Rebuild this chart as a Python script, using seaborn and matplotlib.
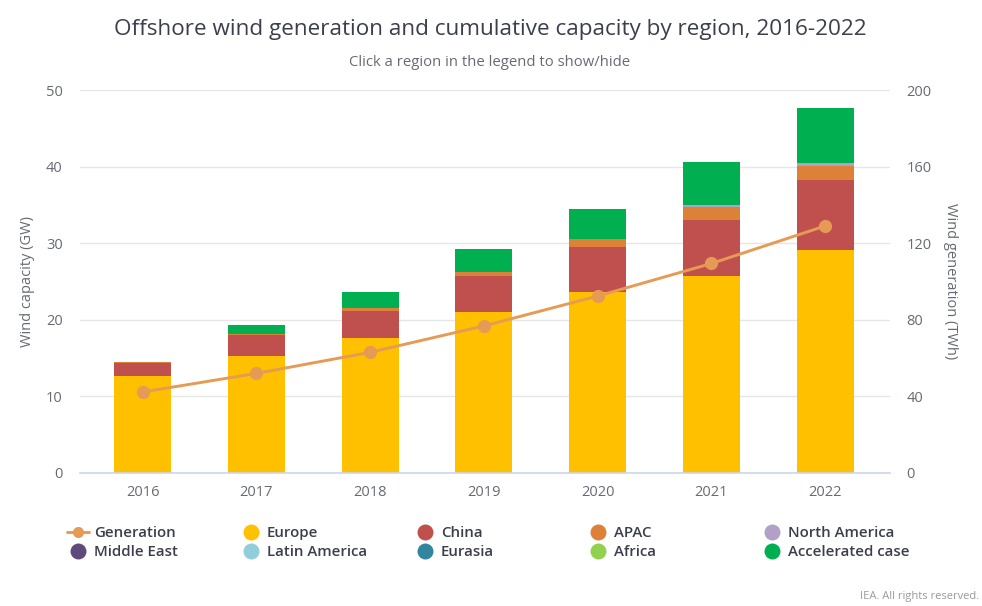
import matplotlib
matplotlib.use("Agg")
import matplotlib.pyplot as plt
from matplotlib.lines import Line2D
import numpy as np
import pandas as pd
import seaborn as sns

years = ["2016", "2017", "2018", "2019", "2020", "2021", "2022"]
europe = [12.65, 15.3, 17.6, 21.0, 23.6, 25.7, 29.1]
china = [1.65, 2.7, 3.5, 4.7, 5.9, 7.3, 9.15]
apac = [0.15, 0.1, 0.5, 0.5, 1.0, 1.7, 1.85]
north_america = [0.0, 0.0, 0.0, 0.03, 0.03, 0.3, 0.4]
middle_east = [0, 0, 0, 0, 0, 0, 0]
latin_america = [0, 0, 0, 0, 0, 0, 0]
eurasia = [0, 0, 0, 0, 0, 0, 0]
africa = [0, 0, 0, 0, 0, 0, 0]
accelerated = [0.0, 1.2, 2.0, 3.07, 3.97, 5.6, 7.1]
generation = [42.3, 52, 63, 76.8, 92.4, 109.4, 129]

series = [
    ("Europe", europe, "#FFC000"),
    ("China", china, "#C0504D"),
    ("APAC", apac, "#DD8038"),
    ("North America", north_america, "#B1A0C7"),
    ("Middle East", middle_east, "#604A7B"),
    ("Latin America", latin_america, "#92CDDC"),
    ("Eurasia", eurasia, "#31859C"),
    ("Africa", africa, "#92D050"),
    ("Accelerated case", accelerated, "#00B050"),
]
gen_color = "#E69B55"
text_dark = "#3a3f4b"
text_grey = "#666b73"

sns.set_theme(style="white")
plt.rcParams["font.family"] = ["Open Sans", "DejaVu Sans"]

fig = plt.figure(figsize=(9.82, 6.06), dpi=100, facecolor="white")
W, H = 982, 606
ax = fig.add_axes([80 / W, 1 - 473 / H, 810 / W, 383 / H])

bottom = np.zeros(len(years))
for name, vals, col in series:
    df = pd.DataFrame({"year": years, "v": vals})
    sns.barplot(data=df, x="year", y="v", ax=ax, color=col, saturation=1,
                width=0.5, bottom=bottom, linewidth=0, errorbar=None, zorder=2)
    bottom = bottom + np.array(vals)

ax.set_xlim(-0.55, 6.57)
ax.set_ylim(0, 50)
ax.set_yticks([0, 10, 20, 30, 40, 50])
ax.grid(axis="y", color="#e6e6e6", linewidth=1.0, zorder=0)
ax.set_axisbelow(True)
for s in ["top", "left", "right"]:
    ax.spines[s].set_visible(False)
ax.spines["bottom"].set_color("#ccd6eb")
ax.spines["bottom"].set_linewidth(1.2)
ax.tick_params(axis="y", length=0, labelsize=10.5, labelcolor=text_grey, pad=12.5)
ax.tick_params(axis="x", length=0, labelsize=10.5, labelcolor=text_grey, pad=8.8)
ax.set_xlabel("")
ax.set_ylabel("Wind capacity (GW)", fontsize=10.5, color=text_grey, labelpad=7.5)

ax2 = ax.twinx()
ax2.set_position(ax.get_position())
sns.lineplot(x=np.arange(len(years)), y=generation, ax=ax2, color=gen_color,
             linewidth=2.1, marker="o", markersize=9.5, markeredgewidth=0,
             errorbar=None, zorder=5)
ax2.set_ylim(0, 200)
ax2.set_yticks([0, 40, 80, 120, 160, 200])
ax2.grid(False)
for s in ax2.spines.values():
    s.set_visible(False)
ax2.tick_params(axis="y", length=0, labelsize=10.5, labelcolor=text_grey, pad=12)
ax2.set_ylabel("Wind generation (TWh)", fontsize=10.5, color=text_grey,
               rotation=270, labelpad=19)

fig.text(490 / W, 1 - 29.5 / H, "Offshore wind generation and cumulative capacity by region, 2016-2022",
         ha="center", va="center", fontsize=16.2, color=text_dark)
fig.text(490 / W, 1 - 62.5 / H, "Click a region in the legend to show/hide",
         ha="center", va="center", fontsize=10.7, color=text_grey)
fig.text(979 / W, 1 - 597 / H, "IEA. All rights reserved.",
         ha="right", va="center", fontsize=8, color="#9a9a9a")


def dot(col):
    return Line2D([], [], linestyle="none", marker="o", markersize=11.5,
                  markerfacecolor=col, markeredgewidth=0)


gen_handle = Line2D([], [], color=gen_color, linewidth=2.1, marker="o",
                    markersize=8, markeredgewidth=0)
colors = {n: c for n, _, c in series}
columns = [
    (67, [("Generation", gen_handle), ("Middle East", dot(colors["Middle East"]))]),
    (240, [("Europe", dot(colors["Europe"])), ("Latin America", dot(colors["Latin America"]))]),
    (414, [("China", dot(colors["China"])), ("Eurasia", dot(colors["Eurasia"]))]),
    (587, [("APAC", dot(colors["APAC"])), ("Africa", dot(colors["Africa"]))]),
    (761, [("North America", dot(colors["North America"])), ("Accelerated case", dot(colors["Accelerated case"]))]),
]
for x0, items in columns:
    leg = fig.legend([h for _, h in items], [t for t, _ in items],
                     loc="upper left", bbox_to_anchor=(x0 / W, 1 - 526 / H),
                     bbox_transform=fig.transFigure, frameon=False,
                     borderpad=0, borderaxespad=0, handlelength=1.45,
                     handletextpad=0.33, labelspacing=0.32,
                     prop={"family": "Open Sans", "size": 10.8, "weight": 600})
    for t in leg.get_texts():
        t.set_color(text_dark)

fig.savefig("out.png", dpi=100, facecolor="white")
